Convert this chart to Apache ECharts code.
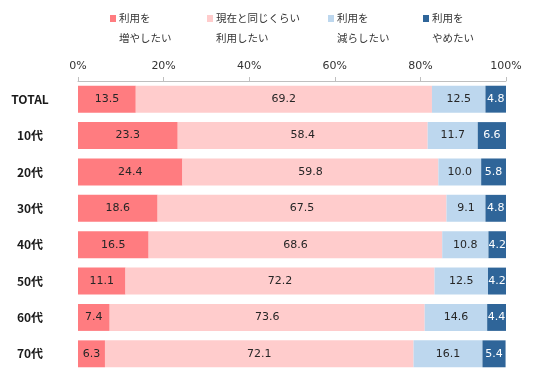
<!DOCTYPE html>
<html><head><meta charset="utf-8">
<script src="https://cdn.jsdelivr.net/npm/echarts@6/dist/echarts.min.js"></script>
<style>html,body{margin:0;padding:0;background:#fff}#c{width:536px;height:374px}</style>
</head><body><div id="c"></div>
<script>
const categories = ['TOTAL','10代','20代','30代','40代','50代','60代','70代'];
const seriesNames = ['利用を\n増やしたい','現在と同じくらい\n利用したい','利用を\n減らしたい','利用を\nやめたい'];
const increase = [13.5,23.3,24.4,18.6,16.5,11.1,7.4,6.3];
const same = [69.2,58.4,59.8,67.5,68.6,72.2,73.6,72.1];
const decrease = [12.5,11.7,10.0,9.1,10.8,12.5,14.6,16.1];
const stop = [4.8,6.6,5.8,4.8,4.2,4.2,4.4,5.4];
const xTicks = [0,20,40,60,80,100];

const colors = ['#FF7C80','#FFCCCC','#BDD7EE','#2F6599'];
const labelColors = ['#262626','#262626','#262626','#ffffff'];
const values = [increase, same, decrease, stop];
const font = '"Noto Sans CJK JP", sans-serif';
const numFont = '"DejaVu Sans", sans-serif';
const legendLefts = [110, 207, 328, 423];

const chart = echarts.init(document.getElementById('c'));
chart.setOption({
  animation: false,
  textStyle: {fontFamily: font},
  legend: seriesNames.map((n, i) => ({
    data: [n], left: legendLefts[i], top: 8.5, padding: 0, itemWidth: 6, itemHeight: 27, itemGap: 0,
    icon: 'path://M0,0H6V7H0Z M0,27L6,27', selectedMode: false,
    textStyle: {fontFamily: font, fontSize: 10.5, color: '#333', lineHeight: 20, padding: [0, 0, 0, -2]}
  })),
  grid: {left: 78, right: 30, top: 81, bottom: 2, containLabel: false},
  xAxis: {
    type: 'value', position: 'top', min: 0, max: 100, interval: 20,
    axisLine: {show: true, lineStyle: {color: '#BFBFBF'}},
    axisTick: {show: true, length: 4, lineStyle: {color: '#BFBFBF'}},
    splitLine: {show: false},
    axisLabel: {formatter: v => xTicks.includes(v) ? v + '%' : '', fontSize: 11, color: '#333', margin: 9, fontFamily: numFont}
  },
  yAxis: {
    type: 'category', data: categories, inverse: true,
    axisLine: {show: false}, axisTick: {show: false},
    axisLabel: {fontWeight: 'bold', fontSize: 12, color: '#1a1a1a', align: 'center', margin: 48, fontFamily: font}
  },
  series: values.map((d, i) => ({
    name: seriesNames[i], type: 'bar', stack: 'a', data: d,
    barCategoryGap: '26%',
    itemStyle: {color: colors[i]},
    label: {show: true, position: 'inside', color: labelColors[i], fontSize: 11, fontFamily: numFont,
      formatter: p => p.value.toFixed(1)}
  }))
});
</script></body></html>
